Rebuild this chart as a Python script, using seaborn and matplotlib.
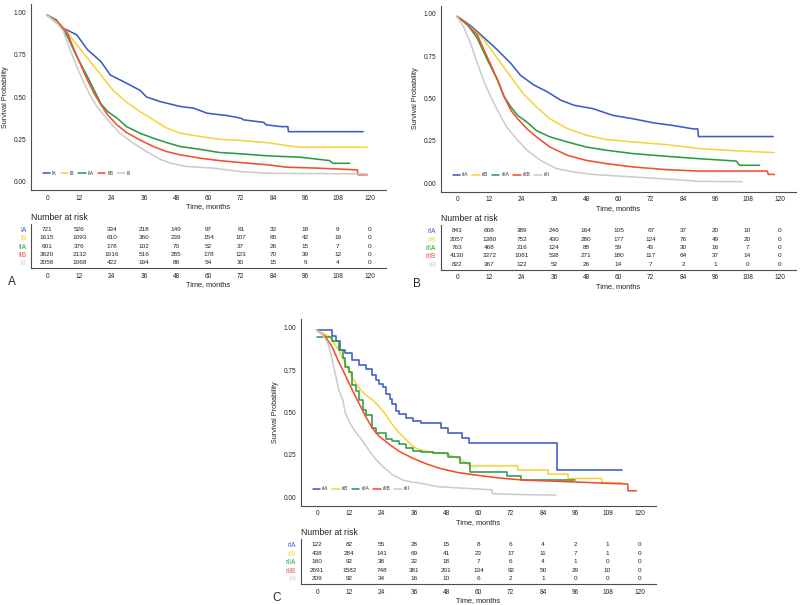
import matplotlib
matplotlib.use("Agg")
import matplotlib.pyplot as plt
import seaborn as sns

sns.set_style("white")
plt.rcParams["font.family"] = ["Liberation Sans", "DejaVu Sans"]

months = [0, 12, 24, 36, 48, 60, 72, 84, 96, 108, 120]
colors = ["#3d5bc4", "#f7d43c", "#2e9a47", "#f24e2f", "#cccccc"]
labels_a = ["IA", "IB", "IIA", "IIB", "III"]
labels_r = ["rIA", "rIB", "rIIA", "rIIB", "rIII"]

# ---- panel A curves (time in months, survival)
a_ia_t = [0, 6, 11, 15, 20, 23.5, 28.5, 34.5, 37, 42, 49.5, 54.5, 59.5, 67, 72, 73, 80.5, 81.5, 87, 89.5, 89.7, 117.5]
a_ia_s = [0.985, 0.907, 0.868, 0.78, 0.71, 0.63, 0.59, 0.54, 0.50, 0.473, 0.444, 0.434, 0.404, 0.39, 0.375, 0.365, 0.35, 0.335, 0.325, 0.325, 0.295, 0.295]
a_ib_t = [0, 5, 10, 15, 20, 24.5, 29.5, 34.5, 39.5, 44.5, 49.5, 57, 64, 72, 82, 89, 94, 119]
a_ib_s = [0.985, 0.93, 0.83, 0.73, 0.63, 0.54, 0.47, 0.414, 0.365, 0.316, 0.286, 0.266, 0.25, 0.243, 0.23, 0.213, 0.203, 0.203]
a_iia_t = [0, 3.5, 7.5, 11, 15, 17.5, 20, 22.5, 26, 29.5, 34.5, 39.5, 44.5, 49.5, 57, 64, 72, 82, 94, 105, 106.3, 112.5]
a_iia_s = [0.985, 0.955, 0.86, 0.74, 0.62, 0.54, 0.46, 0.414, 0.375, 0.325, 0.286, 0.256, 0.23, 0.207, 0.19, 0.172, 0.164, 0.152, 0.144, 0.124, 0.108, 0.108]
a_iib_t = [0, 3.5, 7.5, 10, 12.5, 15, 17.5, 20, 22.5, 26, 29.5, 34.5, 39.5, 44.5, 49.5, 57, 64, 72, 82, 89, 101, 115.3, 115.6, 119]
a_iib_s = [0.985, 0.95, 0.88, 0.78, 0.69, 0.60, 0.52, 0.454, 0.394, 0.335, 0.29, 0.246, 0.207, 0.177, 0.158, 0.138, 0.124, 0.112, 0.099, 0.085, 0.079, 0.069, 0.04, 0.04]
a_iii_t = [0, 3.5, 6, 8.5, 11, 13.5, 16, 18.5, 22.5, 27, 32, 37, 42, 46, 52, 62, 72, 82, 119]
a_iii_s = [0.985, 0.94, 0.89, 0.78, 0.68, 0.59, 0.51, 0.444, 0.365, 0.286, 0.227, 0.177, 0.132, 0.108, 0.089, 0.079, 0.059, 0.049, 0.045]

# ---- panel B curves
b_ria_t = [0, 5, 10, 15, 20, 23.5, 28.5, 33.5, 38.5, 43.5, 50.5, 58, 65.5, 73, 80.5, 87.8, 89.5, 89.7, 117.5]
b_ria_s = [0.985, 0.93, 0.86, 0.787, 0.707, 0.638, 0.58, 0.54, 0.49, 0.46, 0.44, 0.40, 0.38, 0.356, 0.34, 0.32, 0.32, 0.275, 0.275]
b_rib_t = [0, 5, 10, 15, 20, 24.5, 29.5, 34.5, 41, 48, 55.5, 65.5, 78, 90, 100, 112.5, 118]
b_rib_s = [0.985, 0.92, 0.846, 0.737, 0.628, 0.53, 0.45, 0.38, 0.322, 0.283, 0.257, 0.243, 0.227, 0.204, 0.194, 0.184, 0.18]
b_riia_t = [0, 3.5, 7.5, 11, 15, 17.5, 20, 22.5, 26, 29.5, 34.5, 41, 48, 55.5, 65.5, 78, 90, 103.8, 105, 112.5]
b_riia_s = [0.985, 0.945, 0.856, 0.737, 0.61, 0.51, 0.45, 0.40, 0.36, 0.31, 0.273, 0.243, 0.213, 0.194, 0.174, 0.158, 0.144, 0.13, 0.105, 0.105]
b_riib_t = [0, 3.5, 7.5, 10, 12.5, 15, 17.5, 20, 22.5, 26, 29.5, 34.5, 41, 48, 55.5, 65.5, 78, 90, 115.3, 115.7, 118]
b_riib_s = [0.985, 0.94, 0.875, 0.787, 0.70, 0.61, 0.51, 0.43, 0.38, 0.32, 0.273, 0.213, 0.164, 0.134, 0.115, 0.095, 0.079, 0.071, 0.071, 0.051, 0.051]
b_riii_t = [0, 2.5, 5, 7.5, 10, 12.5, 15, 18.5, 22.5, 26, 31, 37, 43.5, 50.5, 65.5, 81.5, 90, 106]
b_riii_s = [0.985, 0.92, 0.826, 0.71, 0.60, 0.51, 0.43, 0.33, 0.253, 0.194, 0.134, 0.085, 0.065, 0.051, 0.036, 0.02, 0.01, 0.008]

# ---- panel C curves (blue and green drawn as steps)
c_ria_t = [0, 5.5, 7, 8.5, 10.5, 13, 15.5, 18, 20.5, 22, 23, 24.5, 25.5, 27, 28, 29.5, 30.5, 33, 35.5, 38.5, 46, 48.5, 54, 56.5, 89.3, 113.5]
c_ria_s = [0.985, 0.95, 0.92, 0.87, 0.85, 0.81, 0.78, 0.76, 0.72, 0.69, 0.67, 0.65, 0.61, 0.58, 0.55, 0.51, 0.49, 0.47, 0.45, 0.436, 0.406, 0.377, 0.347, 0.318, 0.16, 0.16]
c_rib_t = [0, 4.5, 8, 10.5, 13, 15.5, 18, 20.5, 23, 25.5, 28, 30.5, 33, 35.5, 38, 43, 48, 53, 57, 74.6, 74.6, 85.9, 85.9, 93.3, 93.3, 105.8, 105.8, 113]
c_rib_s = [0.985, 0.95, 0.87, 0.79, 0.71, 0.645, 0.605, 0.576, 0.536, 0.487, 0.428, 0.38, 0.34, 0.30, 0.28, 0.264, 0.256, 0.225, 0.185, 0.185, 0.16, 0.16, 0.136, 0.136, 0.11, 0.11, 0.085, 0.085]
c_riia_t = [0, 5.5, 8, 9.5, 10.5, 12, 13, 14.5, 15.5, 17, 18, 20.5, 22, 25.5, 28, 30.5, 33, 35.5, 38.5, 43, 48.5, 53, 57, 70.7, 75.7, 96]
c_riia_s = [0.945, 0.92, 0.87, 0.82, 0.77, 0.74, 0.66, 0.625, 0.576, 0.516, 0.487, 0.408, 0.38, 0.345, 0.33, 0.315, 0.29, 0.27, 0.268, 0.26, 0.238, 0.2, 0.15, 0.124, 0.10, 0.10]
c_riib_t = [0, 3, 5.5, 8, 10.5, 13, 15.5, 18, 20.5, 23, 27, 30.5, 35.5, 40.5, 45.5, 52, 58, 68, 77, 89.5, 105.5, 115.5, 115.6, 118.7]
c_riib_s = [0.985, 0.95, 0.89, 0.80, 0.72, 0.635, 0.556, 0.477, 0.408, 0.36, 0.31, 0.27, 0.23, 0.197, 0.17, 0.146, 0.132, 0.112, 0.10, 0.093, 0.083, 0.077, 0.037, 0.037]
c_riii_t = [0, 2, 4, 5.5, 7, 8, 9.5, 10.5, 12.5, 14.5, 17, 19.5, 22, 24.5, 28, 32, 35.5, 37.5, 45, 57, 65, 65.2, 77, 88.8]
c_riii_s = [0.985, 0.96, 0.91, 0.82, 0.71, 0.635, 0.576, 0.497, 0.428, 0.38, 0.33, 0.27, 0.22, 0.18, 0.132, 0.10, 0.087, 0.085, 0.061, 0.05, 0.043, 0.02, 0.014, 0.012]

# ---- numbers at risk
risk_a = [
    [721, 526, 334, 218, 149, 97, 61, 33, 18, 9, 0],
    [1615, 1093, 610, 360, 239, 154, 107, 65, 42, 19, 0],
    [601, 376, 178, 102, 70, 52, 37, 26, 15, 7, 0],
    [3620, 2132, 1016, 516, 285, 178, 123, 70, 39, 12, 0],
    [2058, 1068, 422, 194, 86, 54, 30, 15, 9, 4, 0],
]
risk_b = [
    [843, 608, 389, 246, 164, 105, 67, 37, 20, 10, 0],
    [2057, 1380, 752, 430, 280, 177, 124, 76, 49, 20, 0],
    [763, 468, 216, 124, 88, 59, 43, 30, 16, 7, 0],
    [4130, 2372, 1081, 538, 271, 180, 117, 64, 37, 14, 0],
    [822, 367, 122, 52, 26, 14, 7, 2, 1, 0, 0],
]
risk_c = [
    [122, 82, 55, 28, 15, 8, 6, 4, 2, 1, 0],
    [438, 284, 141, 69, 41, 23, 17, 11, 7, 1, 0],
    [160, 92, 38, 22, 18, 7, 6, 4, 1, 0, 0],
    [2691, 1582, 748, 381, 201, 134, 92, 50, 29, 10, 0],
    [209, 92, 34, 16, 10, 6, 2, 1, 0, 0, 0],
]

W, H = 800, 605
AX_COL = "#4d4d4d"
TXT = "#222222"


def box(x0, y0, x1, y1):
    return [x0 / W, 1 - y1 / H, (x1 - x0) / W, (y1 - y0) / H]


def style_axes(ax):
    sns.despine(ax=ax)
    for side in ["left", "bottom"]:
        ax.spines[side].set_color(AX_COL)
        ax.spines[side].set_linewidth(0.8)
    ax.tick_params(length=2, width=0.6, color=AX_COL, labelsize=4.7,
                   pad=1.5, labelcolor=TXT)
    ax.set_xlim(-6, 126)
    ax.set_xticks(months)
    ax.set_xlabel("Time, months", fontsize=5.3, labelpad=1.2, color=TXT)


def survival_panel(ax, curves, names, steps):
    for (t, s), name, col, st in zip(curves, names, colors, steps):
        sns.lineplot(x=t, y=s, ax=ax, color=col, label=name, lw=1.15,
                     estimator=None, sort=False,
                     drawstyle="steps-post" if st else "default")
    style_axes(ax)
    ax.set_ylim(-0.05, 1.05)
    ax.set_yticks([0, 0.25, 0.5, 0.75, 1.0])
    ax.set_yticklabels(["0.00", "0.25", "0.50", "0.75", "1.00"])
    ax.set_ylabel("Survival Probability", fontsize=5.2, labelpad=3, color=TXT)
    ax.legend(ncol=5, loc="center left", bbox_to_anchor=(0.02, 0.09),
              frameon=False, fontsize=3.6, handlelength=1.5,
              handletextpad=0.35, columnspacing=0.8, labelcolor="#333333")


def risk_panel(ax, rows, names):
    for i, vals in enumerate(rows):
        for t, v in zip(months, vals):
            ax.text(t, i + 1, str(v), ha="center", va="center",
                    fontsize=4.6, color=TXT)
    style_axes(ax)
    ax.set_ylim(5.65, 0.3)
    ax.set_yticks([1, 2, 3, 4, 5])
    ax.set_yticklabels(names)
    for lab, col in zip(ax.get_yticklabels(), colors):
        lab.set_color(col)
    ax.annotate("Number at risk", xy=(0, 1), xycoords="axes fraction",
                xytext=(0, 5), textcoords="offset points", ha="left",
                va="center", fontsize=6.2, color=TXT)


fig = plt.figure(figsize=(8, 6.05), dpi=100)

ax_a = fig.add_axes(box(31, 4, 386, 190))
survival_panel(ax_a, [(a_ia_t, a_ia_s), (a_ib_t, a_ib_s), (a_iia_t, a_iia_s),
                      (a_iib_t, a_iib_s), (a_iii_t, a_iii_s)],
               labels_a, [False] * 5)
ax_ta = fig.add_axes(box(31, 224, 386, 268))
risk_panel(ax_ta, risk_a, labels_a)

ax_b = fig.add_axes(box(441, 5.5, 796, 191.5))
survival_panel(ax_b, [(b_ria_t, b_ria_s), (b_rib_t, b_rib_s), (b_riia_t, b_riia_s),
                      (b_riib_t, b_riib_s), (b_riii_t, b_riii_s)],
               labels_r, [False] * 5)
ax_tb = fig.add_axes(box(441, 225, 796, 269.5))
risk_panel(ax_tb, risk_b, labels_r)

ax_c = fig.add_axes(box(301, 319.5, 656, 505.5))
survival_panel(ax_c, [(c_ria_t, c_ria_s), (c_rib_t, c_rib_s), (c_riia_t, c_riia_s),
                      (c_riib_t, c_riib_s), (c_riii_t, c_riii_s)],
               labels_r, [True, False, True, False, False])
ax_tc = fig.add_axes(box(301, 539, 656, 584))
risk_panel(ax_tc, risk_c, labels_r)

fig.text(8 / W, 1 - 282 / H, "A", fontsize=8.5, va="center", ha="left")
fig.text(413 / W, 1 - 284 / H, "B", fontsize=8.5, va="center", ha="left")
fig.text(272 / W, 1 - 598 / H, "C", fontsize=8.5, va="center", ha="left")

fig.savefig("out.png", dpi=100)
